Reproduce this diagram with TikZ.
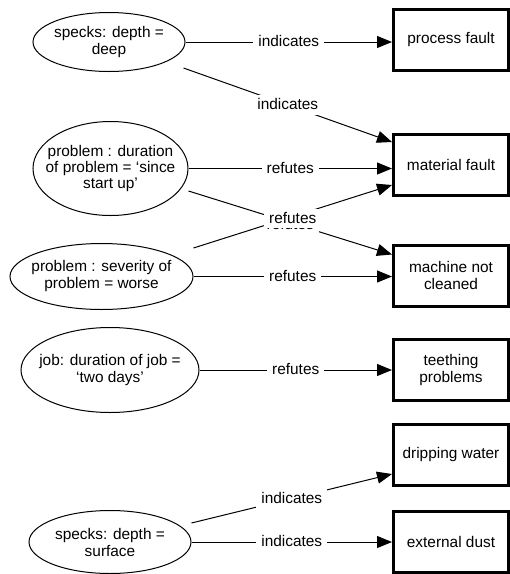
\documentclass[tikz,border=0pt]{standalone}
\usepackage{fontspec}
\setmainfont{Liberation Sans}
\usetikzlibrary{arrows.meta,shapes.geometric,calc}
\begin{document}
\begin{tikzpicture}[x=1pt,y=-1pt,
  font=\fontsize{15.4}{17}\selectfont,
  ell/.style={draw, ellipse, line width=1pt, inner sep=0pt},
  etxt/.style={align=center, inner sep=0pt},
  box/.style={draw, rectangle, line width=3pt, minimum width=115pt, minimum height=61pt, align=center, inner sep=0pt},
  conn/.style={line width=1pt, -{Triangle[length=15pt,width=12pt]}},
  lbl/.style={fill=white, inner xsep=5pt, inner ysep=1.5pt, text height=13pt, text depth=3.5pt}]
\useasboundingbox (0,0) rectangle (510,574);

% ellipses
\node[ell, minimum width=152pt, minimum height=59pt,
  label={[etxt]center:{specks: depth =\\deep}}] (e1) at (109,42) {};
\node[ell, minimum width=155pt, minimum height=94pt,
  label={[etxt,font=\fontsize{15.4}{16}\selectfont]center:{problem : duration\\of problem = ‘since\\start up’}}] (e2) at (110.5,168.5) {};
\node[ell, minimum width=183pt, minimum height=66pt,
  label={[etxt]center:{problem : severity of\\problem = worse}}] (e3) at (101.5,276.5) {};
\node[ell, minimum width=178pt, minimum height=85pt,
  label={[etxt]center:{job: duration of job =\\‘two days’}}] (e4) at (110,370) {};
\node[ell, minimum width=162pt, minimum height=63pt,
  label={[etxt]center:{specks: depth =\\surface}}] (e5) at (110,542) {};

% boxes
\node[box] (b1) at (451,39.5) {process fault};
\node[box] (b2) at (451,165) {material fault};
\node[box] (b3) at (451,275.5) {machine not\\cleaned};
\node[box] (b4) at (451,370) {teething\\problems};
\node[box] (b5) at (451,455) {dripping water};
\node[box] (b6) at (451,542) {external dust};

% free ends
\coordinate (s2) at ($(e1.east)+(-2,26)$);
\coordinate (s4) at ($(e2.east)+(0,22.5)$);
\coordinate (s5) at ($(e3.east)+(0,-28.5)$);
\coordinate (s8) at ($(e5.east)+(0,-19)$);

% connectors
\draw[conn] (e1.east) -- (e1.east -| b1.west) node[lbl,midway] {indicates\hspace{9pt}};
\draw[conn] (s2) -- ([yshift=-9pt]b2.north west) node[lbl,midway] {indicates\hspace{9pt}};
\draw[conn] (e2.east) -- (e2.east -| b2.west) node[lbl,midway] {refutes\hspace{9pt}};
\draw[conn] (s4) -- ([yshift=-11pt]b3.north west) node[lbl,midway,yshift=-2pt] {refutes\hspace{9pt}};
\draw[conn] (s5) -- ([yshift=12pt]b2.south west) node[lbl,midway,yshift=-2pt] {refutes\hspace{9pt}};
\draw[conn] (e3.east) -- (e3.east -| b3.west) node[lbl,midway] {refutes\hspace{9pt}};
\draw[conn] (e4.east) -- (e4.east -| b4.west) node[lbl,midway] {refutes\hspace{9pt}};
\draw[conn] (s8) -- ([yshift=13pt]b5.south west) node[lbl,midway] {indicates\hspace{9pt}};
\draw[conn] (e5.east) -- (e5.east -| b6.west) node[lbl,midway] {indicates\hspace{9pt}};
\end{tikzpicture}
\end{document}
